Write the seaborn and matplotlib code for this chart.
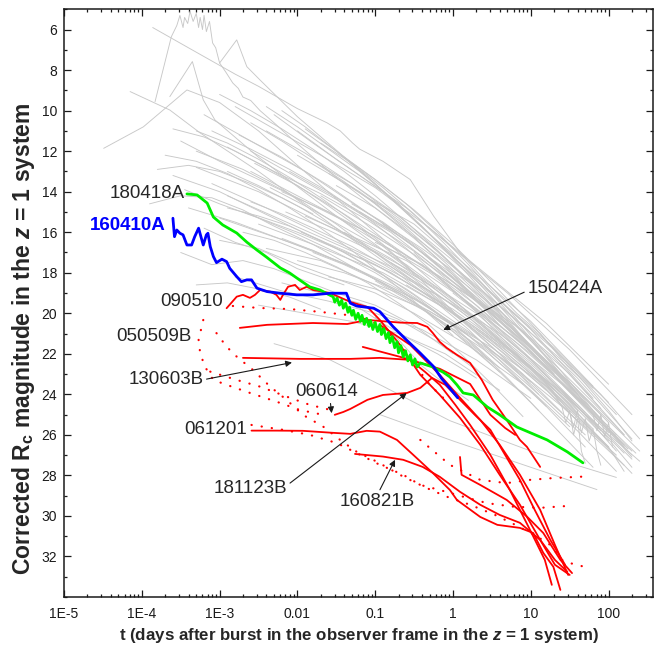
import numpy as np
import pandas as pd
import matplotlib
matplotlib.use('Agg')
import matplotlib.pyplot as plt
import seaborn as sns
from matplotlib.ticker import FixedLocator, MultipleLocator, LogLocator, NullFormatter

# ---------------- data (log10 t in days, corrected Rc magnitude) ----------------
# background afterglow sample (grey)
gray_lt = [
    [-3.83, -3.62, -3.55, -3.51, -3.47, -3.45, -3.41, -3.38, -3.34, -3.30, -3.27, -3.25, -3.22, -3.20, -3.17, -3.13, -3.09, -3.05, -3.00, -2.92, -2.83, -2.76, -2.70, -2.60, -2.48, -2.30, -2.10, -1.80, -1.50, -1.00, -0.50, 0.00, 0.50, 1.00, 1.40],
    [-3.86, -3.40, -2.80, -2.50, -2.00, -1.62, -1.45, -1.29, -1.20, -0.90, -0.55, -0.25, 0.09, 0.44, 0.82, 1.12, 1.47, 1.80, 2.10],
    [-3.64, -3.35, -3.21, -3.06, -2.50, -1.50, -0.50, 0.50, 1.30],
    [-3.00, -2.78, -2.65, -2.48, -2.00, -1.00, 0.00, 1.00, 1.80],
    [-4.49, -3.98, -3.42, -3.00, -2.50, -2.00, -1.00, 0.00, 1.00, 1.60],
    [-4.15, -3.64, -3.25, -2.50, -1.50, -0.50, 0.50, 1.20],
    [-3.50, -3.00, -2.00, -1.00, 0.00, 0.80, 1.50, 2.20],
    [-3.30, -2.50, -1.50, -0.50, 0.30, 1.00, 1.90],
    [-3.10, -2.40, -1.60, -0.80, 0.00, 0.70, 1.30, 2.00],
    [-2.90, -2.20, -1.20, -0.20, 0.60, 1.40, 2.30],
    [-2.70, -2.00, -1.00, 0.00, 0.80, 1.60],
    [-2.50, -1.80, -0.90, 0.10, 0.90, 1.70, 2.40],
    [-3.60, -3.00, -2.20, -1.40, -0.60, 0.20, 1.00],
    [-3.20, -2.60, -1.90, -1.20, -0.40, 0.40, 1.10, 1.80],
    [-2.80, -2.30, -1.70, -1.00, -0.30, 0.50, 1.20, 2.00],
    [-2.30, -1.80, -1.20, -0.60, 0.00, 0.70, 1.50, 2.30],
    [-2.00, -1.50, -0.90, -0.30, 0.40, 1.00, 1.80],
    [-1.80, -1.30, -0.70, 0.00, 0.60, 1.30, 2.00],
    [-1.50, -1.00, -0.40, 0.20, 0.90, 1.60, 2.30],
    [-2.60, -2.00, -1.40, -0.80, -0.20, 0.50, 1.20, 1.90],
    [-3.40, -2.80, -2.10, -1.30, -0.50, 0.30, 1.00, 1.70],
    [-2.20, -1.60, -1.00, -0.30, 0.40, 1.10, 1.70],
    [-1.90, -1.30, -0.60, 0.10, 0.80, 1.50, 2.20],
    [-1.20, -0.60, 0.00, 0.60, 1.20, 1.90],
    [-1.00, -0.40, 0.30, 0.90, 1.50, 2.10],
    [-0.80, -0.20, 0.40, 1.00, 1.60, 2.30],
    [-2.40, -1.70, -1.00, -0.30, 0.40, 1.00, 1.50],
    [-2.00, -1.40, -0.70, 0.00, 0.70, 1.40, 2.10],
    [-1.60, -1.00, -0.30, 0.50, 1.20, 2.00],
    [-3.00, -2.50, -2.00, -1.50, -1.00, -0.50, 0.20, 0.90],
    [-2.80, -2.20, -1.60, -1.00, -0.40, 0.30, 1.00],
    [-2.50, -1.90, -1.30, -0.70, -0.10, 0.60],
    [-2.30, -1.58, -0.90, -0.04, 1.00, 2.10],
    [-0.94, 0.00, 1.00, 1.85],
    [0.50, 1.00, 1.50, 1.80, 2.00, 2.20],
    [0.80, 1.10, 1.30, 1.40, 1.45, 1.50, 1.55, 1.60, 1.65, 1.70],
    [-3.50, -3.10, -2.70, -2.30, -1.90, -1.50, -1.00, -0.50, 0.00],
    [-3.20, -2.80, -2.40, -2.00, -1.40],
    [-1.30, -0.90, -0.50, -0.20, 0.10, 0.30],
    [-1.00, -0.70, -0.40, -0.10, 0.20],
    [-2.60, -1.90, -1.10, -0.40, 0.30, 1.00, 1.60],
    [-2.10, -1.50, -0.80, -0.10, 0.60, 1.30, 1.90],
    [-1.70, -1.10, -0.50, 0.20, 0.90, 1.50],
    [-2.90, -2.30, -1.70, -1.10, -0.40, 0.20, 0.80, 1.30],
    [-1.40, -0.80, -0.20, 0.40, 1.00, 1.60, 2.10],
    [-3.00, -2.40, -1.80, -1.20, -0.60, 0.00, 0.60],
    [-0.60, 0.00, 0.60, 1.20, 1.80, 2.30],
    [-2.40, -1.90, -1.30, -0.70, -0.10, 0.50, 1.10, 1.70],
    [-1.10, -0.50, 0.10, 0.70, 1.30, 1.90, 2.40],
    [0.00, 0.50, 1.00, 1.50, 2.00, 2.35],
    [-3.30, -2.70, -2.10, -1.50, -0.90, -0.30, 0.30, 0.90, 1.40],
    [-2.90, -2.50, -2.00, -1.50, -1.00, -0.50, 0.00, 0.60, 1.10],
    [-2.75, -2.20, -1.60, -1.00, -0.40, 0.20, 0.80, 1.50, 2.00],
    [-2.55, -2.00, -1.40, -0.80, -0.20, 0.40, 1.00, 1.60, 2.20],
    [-2.35, -1.80, -1.20, -0.60, 0.00, 0.60, 1.20, 1.80],
    [-2.15, -1.60, -1.00, -0.40, 0.20, 0.80, 1.40, 2.00],
    [-1.95, -1.40, -0.80, -0.20, 0.40, 1.00, 1.60],
    [-3.45, -3.00, -2.50, -2.00, -1.50, -1.00, -0.50, 0.00, 0.60],
    [-3.10, -2.60, -2.10, -1.60, -1.10, -0.60, -0.10, 0.40, 0.90, 1.30],
    [-2.00, -1.60, -1.10, -0.60, -0.10, 0.40, 0.90, 1.40, 1.90, 2.30],
    [-1.60, -1.20, -0.70, -0.20, 0.30, 0.80, 1.30, 1.80, 2.20],
    [-1.30, -0.90, -0.40, 0.10, 0.60, 1.10, 1.60, 2.00],
    [-0.90, -0.50, 0.00, 0.50, 1.00, 1.50, 2.00, 2.40],
    [-0.50, 0.00, 0.50, 1.00, 1.50, 1.90, 2.30],
    [-2.60, -2.20, -1.80, -1.30, -0.80, -0.30, 0.20, 0.70, 1.20],
    [-2.20, -1.80, -1.30, -0.80, -0.30, 0.20, 0.70, 1.20, 1.70],
    [-1.80, -1.40, -0.90, -0.40, 0.10, 0.60, 1.10, 1.60, 2.10],
    [-1.20, -0.80, -0.30, 0.20, 0.70, 1.20, 1.70, 2.20],
    [-3.70, -3.30, -2.90, -2.50, -2.10, -1.70, -1.30, -0.90, -0.50, 0.00],
    [-3.90, -3.50, -3.10, -2.70, -2.30, -1.80, -1.20, -0.60, 0.00, 0.50],
    [-2.40, -2.00, -1.60, -1.20, -0.80, -0.40, 0.00, 0.40, 0.80, 1.20, 1.60],
    [-1.90, -1.50, -1.00, -0.50, 0.00, 0.50, 1.00, 1.50, 2.00, 2.30],
    [-0.20, 0.30, 0.80, 1.30, 1.80, 2.25],
    [0.30, 0.70, 1.10, 1.50, 1.90, 2.30],
    [-1.00, -0.60, -0.20, 0.20, 0.60, 1.00, 1.40, 1.80],
    [-2.70, -2.30, -1.90, -1.50, -1.10, -0.70, -0.30, 0.10, 0.50, 0.90],
    [1.20, 1.30, 1.40, 1.50, 1.55, 1.60, 1.65, 1.70, 1.75, 1.80, 1.85, 1.90],
    [1.50, 1.60, 1.70, 1.80, 1.85, 1.90, 1.95, 2.00, 2.05],
    [-2.20, -1.70, -1.20, -0.70, -0.20, 0.30],
    [-3.30, -2.90, -2.50, -2.10, -1.70],
    [-3.00, -2.60, -2.20, -1.80, -1.40, -1.00, -0.60, -0.20, 0.20, 0.60, 1.00],
    [-2.60, -2.20, -1.80, -1.40, -1.00, -0.60, -0.20, 0.20, 0.60],
    [-3.30, -2.90, -2.50, -2.10, -1.70, -1.30, -0.90, -0.50],
    [-3.60, -3.20, -2.80, -2.40, -2.00, -1.60, -1.20, -0.80, -0.40, 0.00],
    [-2.20, -1.90, -1.50, -1.10, -0.70, -0.30, 0.10, 0.50, 0.90, 1.30],
    [-1.70, -1.30, -0.90, -0.50, -0.10, 0.30, 0.70, 1.10, 1.50, 1.90],
    [-3.80, -3.40, -3.00, -2.60, -2.20, -1.80],
    [-2.90, -2.50, -2.10, -1.70, -1.30, -0.90, -0.50, -0.10, 0.30, 0.70, 1.10],
    [-1.40, -1.00, -0.60, -0.20, 0.20, 0.60, 1.00, 1.40, 1.80, 2.20],
]
gray_mag = [
    [9.56, 6.35, 5.80, 5.30, 5.90, 5.40, 5.70, 5.10, 5.60, 5.20, 5.90, 5.40, 6.00, 5.30, 6.10, 5.60, 6.66, 6.90, 7.65, 8.10, 8.64, 8.90, 9.33, 9.50, 10.00, 10.60, 11.30, 12.30, 13.30, 14.80, 16.30, 18.00, 19.80, 21.60, 23.20],
    [5.90, 6.90, 8.20, 8.80, 9.90, 10.60, 11.00, 11.60, 11.90, 12.50, 13.40, 15.20, 17.00, 18.50, 20.00, 21.00, 22.60, 23.80, 25.00],
    [9.31, 7.58, 9.47, 10.46, 12.30, 15.20, 18.00, 21.00, 23.80],
    [7.65, 6.51, 7.83, 8.49, 10.30, 13.60, 17.20, 20.80, 24.20],
    [11.86, 10.80, 8.98, 9.60, 11.00, 12.70, 16.00, 19.30, 22.80, 25.00],
    [9.06, 9.97, 11.10, 13.00, 15.80, 18.50, 21.50, 23.80],
    [11.50, 12.50, 14.30, 16.20, 18.60, 20.60, 23.00, 26.00],
    [12.80, 14.00, 15.90, 18.00, 20.00, 22.30, 25.80],
    [13.60, 14.80, 16.30, 17.70, 19.60, 21.70, 23.60, 26.30],
    [14.20, 15.40, 17.10, 19.10, 21.00, 23.50, 26.80],
    [15.00, 16.00, 17.60, 19.80, 22.00, 24.80],
    [15.60, 16.60, 18.00, 20.20, 22.30, 25.00, 27.30],
    [13.20, 14.00, 15.50, 17.00, 18.80, 20.90, 23.40],
    [10.20, 11.50, 13.00, 14.80, 16.80, 19.00, 21.30, 23.70],
    [9.80, 10.90, 12.20, 13.80, 15.80, 18.30, 20.50, 23.50],
    [10.20, 11.60, 13.20, 14.80, 16.80, 19.00, 21.80, 25.00],
    [11.00, 12.40, 14.00, 16.10, 18.40, 20.40, 23.60],
    [12.50, 13.60, 15.20, 17.40, 19.40, 21.80, 24.40],
    [13.70, 14.80, 16.50, 18.30, 20.60, 23.20, 26.20],
    [12.00, 13.30, 14.60, 16.00, 17.80, 20.00, 22.40, 25.20],
    [14.80, 15.50, 16.50, 17.70, 19.30, 21.20, 23.50, 26.00],
    [14.00, 15.00, 16.40, 18.00, 20.10, 22.60, 24.90],
    [15.20, 16.20, 17.40, 19.20, 21.20, 23.80, 26.50],
    [15.00, 16.40, 18.20, 20.20, 22.40, 25.00],
    [16.50, 17.60, 19.40, 21.40, 23.60, 26.00],
    [17.50, 18.80, 20.50, 22.40, 24.50, 27.20],
    [16.80, 17.40, 18.60, 20.00, 21.80, 23.80, 25.60],
    [17.40, 18.00, 19.00, 20.60, 22.40, 24.60, 27.00],
    [18.20, 18.80, 19.90, 21.70, 23.60, 26.60],
    [16.40, 16.80, 17.60, 18.30, 19.00, 20.00, 21.60, 23.50],
    [18.20, 18.90, 19.40, 20.00, 20.80, 22.30, 24.20],
    [19.60, 20.00, 20.40, 21.00, 22.00, 23.80],
    [21.50, 22.30, 23.60, 25.30, 26.80, 28.10],
    [25.00, 26.30, 27.60, 28.70],
    [21.00, 22.60, 24.50, 25.80, 26.60, 27.80],
    [22.00, 23.00, 24.00, 24.60, 25.40, 24.80, 26.00, 25.20, 26.80, 27.40],
    [17.00, 17.60, 17.40, 17.80, 18.40, 19.00, 19.60, 20.60, 22.00],
    [15.80, 16.50, 17.00, 17.80, 18.60],
    [19.50, 20.50, 21.40, 22.00, 22.70, 23.20],
    [20.20, 21.30, 22.60, 23.50, 24.30],
    [13.00, 14.40, 16.00, 17.60, 19.60, 21.90, 24.20],
    [13.00, 14.30, 15.90, 17.80, 19.90, 22.20, 24.70],
    [14.20, 15.60, 17.10, 19.00, 21.20, 23.50],
    [11.80, 13.00, 14.10, 15.40, 17.20, 19.10, 21.10, 23.00],
    [16.00, 17.30, 18.90, 20.60, 22.50, 24.60, 26.80],
    [15.30, 16.10, 16.90, 17.90, 19.20, 20.90, 22.90],
    [18.60, 20.00, 21.60, 23.30, 25.30, 27.60],
    [11.00, 12.10, 13.60, 15.30, 17.30, 19.60, 22.00, 24.50],
    [14.30, 15.60, 17.60, 19.70, 21.70, 24.00, 26.20],
    [19.00, 20.50, 22.00, 23.80, 25.60, 26.90],
    [12.00, 12.90, 14.10, 15.60, 17.30, 19.00, 21.00, 23.00, 24.90],
    [13.00, 13.70, 14.70, 15.80, 17.00, 18.30, 19.90, 22.00, 24.00],
    [11.20, 12.30, 13.70, 15.30, 17.00, 18.90, 20.90, 23.40, 25.40],
    [12.60, 13.70, 15.10, 16.60, 18.20, 20.20, 22.30, 24.60, 26.90],
    [13.80, 14.90, 16.20, 17.60, 19.30, 21.30, 23.40, 25.70],
    [15.00, 15.90, 17.00, 18.50, 20.20, 22.20, 24.30, 26.60],
    [16.00, 16.90, 18.00, 19.40, 21.00, 23.00, 25.30],
    [13.90, 14.60, 15.30, 16.10, 17.00, 18.00, 19.20, 20.60, 22.70],
    [11.00, 11.90, 12.90, 14.00, 15.30, 16.80, 18.50, 20.30, 22.30, 23.90],
    [12.20, 13.10, 14.30, 15.80, 17.50, 19.30, 21.30, 23.30, 25.40, 27.00],
    [13.10, 14.00, 15.40, 16.90, 18.70, 20.60, 22.50, 24.40, 26.00],
    [14.60, 15.50, 16.90, 18.60, 20.40, 22.30, 24.30, 25.90],
    [15.60, 16.70, 18.30, 20.00, 21.70, 23.40, 25.30, 26.80],
    [17.00, 18.60, 20.30, 21.90, 23.80, 25.40, 27.10],
    [14.50, 15.10, 15.80, 16.70, 17.80, 19.20, 20.80, 22.70, 24.60],
    [16.30, 16.90, 17.70, 18.60, 19.70, 21.10, 22.80, 24.60, 26.60],
    [17.00, 17.60, 18.50, 19.50, 20.80, 22.30, 24.00, 25.80, 27.80],
    [17.20, 18.00, 19.20, 20.60, 22.10, 23.80, 25.70, 27.50],
    [12.20, 12.50, 13.10, 13.90, 14.80, 15.80, 16.90, 18.10, 19.40, 21.10],
    [14.60, 14.20, 14.30, 14.90, 15.70, 16.60, 17.90, 19.20, 20.80, 22.40],
    [9.80, 10.80, 11.90, 13.00, 14.30, 15.70, 17.20, 18.80, 20.50, 22.20, 24.00],
    [10.90, 12.00, 13.40, 14.90, 16.60, 18.50, 20.50, 22.60, 24.80, 26.30],
    [18.20, 19.80, 21.40, 23.10, 25.00, 26.70],
    [20.80, 22.00, 23.30, 24.80, 26.30, 27.90],
    [18.40, 19.30, 20.30, 21.50, 22.90, 24.40, 26.00, 27.60],
    [16.00, 16.40, 17.00, 17.70, 18.50, 19.50, 20.60, 22.00, 23.50, 25.10],
    [23.50, 24.00, 24.40, 24.90, 25.60, 24.80, 25.90, 25.20, 26.30, 25.70, 26.80, 27.50],
    [23.60, 24.00, 24.50, 25.00, 25.80, 25.00, 26.10, 25.40, 26.60],
    [18.50, 19.00, 19.50, 20.30, 21.40, 22.80],
    [18.60, 18.50, 18.80, 19.20, 19.80],
    [9.20, 10.00, 10.90, 11.90, 13.00, 14.20, 15.50, 16.90, 18.40, 20.00, 21.70],
    [10.60, 11.50, 12.50, 13.50, 14.60, 15.90, 17.30, 18.90, 20.60],
    [11.00, 11.60, 12.40, 13.30, 14.30, 15.40, 16.60, 18.00],
    [10.90, 11.30, 12.00, 12.80, 13.70, 14.70, 15.80, 17.00, 18.40, 19.90],
    [10.00, 10.80, 12.00, 13.30, 14.60, 16.10, 17.70, 19.40, 21.20, 23.00],
    [11.60, 12.60, 13.80, 15.10, 16.60, 18.20, 19.90, 21.70, 23.50, 25.40],
    [12.90, 12.70, 13.00, 13.60, 14.30, 15.10],
    [14.80, 15.20, 15.70, 16.40, 17.20, 18.10, 19.10, 20.30, 21.70, 23.20, 24.80],
    [12.30, 13.40, 14.60, 16.00, 17.60, 19.30, 21.10, 22.90, 24.80, 26.60],
]

# GRB 180418A (green)
green_lt = [-3.42, -3.29, -3.16, -3.08, -2.96, -2.78, -2.65, -2.52, -2.40, -2.22, -2.10, -1.97, -1.84, -1.71,
            -1.54, -1.52, -1.49, -1.46, -1.43, -1.41, -1.38, -1.35, -1.33, -1.30, -1.28, -1.25, -1.22, -1.19,
            -1.17, -1.14, -1.11, -1.08, -1.06, -1.03, -1.00, -0.97, -0.94, -0.92, -0.89, -0.86, -0.83, -0.81,
            -0.78, -0.75, -0.72, -0.70, -0.67, -0.64, -0.61, -0.58, -0.55, -0.52, -0.49, -0.46, -0.42,
            -0.26, -0.13, -0.04, 0.05, 0.13, 0.26, 0.44, 0.60, 0.82, 1.21, 1.47, 1.67]
green_mag = [14.11, 14.16, 14.56, 15.25, 15.64, 16.04, 16.49, 16.88, 17.22, 17.76, 18.01, 18.36, 18.70, 18.85,
             19.19, 19.45, 19.25, 19.60, 19.35, 19.75, 19.50, 19.95, 19.70, 20.10, 19.85, 20.30, 20.00, 20.40,
             20.10, 20.55, 20.25, 20.65, 20.35, 20.80, 20.45, 20.90, 20.55, 21.05, 20.75, 21.25, 20.95, 21.45,
             21.15, 21.70, 21.40, 21.95, 21.60, 22.15, 21.85, 22.35, 22.05, 22.55, 22.25, 22.65, 22.45,
             22.65, 22.90, 23.14, 23.53, 23.93, 24.03, 24.62, 25.01, 25.61, 26.25, 26.84, 27.38]

# GRB 160410A (blue)
blue_lt = [-3.60, -3.58, -3.55, -3.51, -3.47, -3.42, -3.36, -3.32, -3.27, -3.24, -3.21, -3.17, -3.15, -3.12,
           -3.08, -3.04, -2.97, -2.91, -2.87, -2.78, -2.72, -2.65, -2.59, -2.52, -2.39, -2.22, -2.01, -1.80,
           -1.58, -1.37, -1.32, -1.24, -1.02, -0.94, -0.77, -0.60, -0.42, -0.25, -0.15, 0.06]
blue_mag = [15.31, 16.22, 15.89, 16.05, 16.13, 16.63, 16.63, 16.22, 15.80, 16.22, 16.63, 16.13, 16.05, 16.71,
            17.20, 17.50, 17.33, 17.45, 17.78, 18.19, 18.44, 18.35, 18.35, 18.76, 18.93, 19.01, 19.09, 19.09,
            19.01, 19.01, 19.50, 19.64, 19.75, 19.92, 20.66, 21.31, 21.97, 22.63, 23.20, 24.17]

# short / peculiar bursts (red, solid)
red_lt = [
    [-2.91, -2.78, -2.70, -2.61, -2.545, -2.48, -2.35, -2.27, -2.22, -2.185, -2.12, -2.03, -1.97, -1.88, -1.80,
     -1.58, -1.32, -1.10, -0.94, -0.68, -0.42, -0.17, 0.09, 0.35, 0.60, 0.86, 1.12, 1.31, 1.50],
    [-2.74, -2.39, -1.80, -1.36, -1.10, -0.68, -0.46, -0.33, -0.26, -0.17, -0.08, 0.05, 0.22, 0.37, 0.51, 0.69,
     0.86, 0.95, 1.12],
    [-2.70, -1.97, -1.32, -0.94, -0.55, -0.36, -0.17, 0.03, 0.22, 0.48, 0.73, 0.99, 1.18, 1.27],
    [-1.52, -1.41, -1.32, -1.10, -0.90, -0.59, -0.42, -0.27, -0.10, 0.09, 0.28, 0.48, 0.67, 0.86, 1.05, 1.25, 1.44],
    [-2.59, -2.27, -1.93, -1.58, -1.32, -1.11, -0.94, -0.72, -0.51, -0.26, -0.04, 0.05, 0.35, 0.57, 0.86, 1.03,
     1.16, 1.29, 1.38],
    [-1.26, -0.90, -0.64, -0.39, -0.17, 0.09, 0.35, 0.60, 0.86, 1.12, 1.31, 1.47],
    [0.09, 0.11, 0.35, 0.69, 0.95, 1.16, 1.38, 1.53],
    [-1.16, -0.68, -0.17, 0.22, 0.48, 0.67, 0.80],
    [-0.94, -0.55, -0.17, 0.09, 0.35, 0.60, 0.86, 1.12, 1.31, 1.48],
]
red_mag = [
    [19.75, 19.18, 19.09, 19.24, 19.09, 18.85, 18.93, 19.09, 19.34, 19.09, 18.69, 18.60, 18.85, 18.69, 18.85,
     19.00, 19.44, 19.69, 20.33, 21.56, 23.04, 24.03, 25.16, 26.49, 27.97, 29.45, 31.18, 32.41, 32.91],
    [20.72, 20.57, 20.48, 20.53, 20.33, 20.46, 20.48, 20.67, 20.97, 21.41, 21.71, 22.05, 22.45, 23.29, 24.27,
     25.26, 26.25, 26.59, 27.58],
    [22.20, 22.25, 22.25, 22.20, 22.30, 22.89, 23.53, 24.52, 25.51, 26.99, 28.71, 30.69, 32.17, 33.40],
    [25.01, 24.87, 24.72, 24.27, 24.03, 23.93, 23.68, 23.19, 23.53, 24.27, 25.01, 25.75, 26.99, 28.22, 29.70,
     31.18, 32.41],
    [25.79, 25.79, 25.80, 25.89, 25.95, 25.80, 25.84, 26.25, 26.99, 27.88, 28.72, 29.21, 30.05, 30.44, 30.59,
     30.84, 31.82, 32.51, 33.65],
    [26.94, 27.07, 27.23, 27.58, 28.07, 28.81, 29.45, 29.95, 30.34, 31.18, 32.17, 32.76],
    [27.09, 27.97, 28.47, 29.21, 30.03, 30.84, 32.17, 32.82],
    [21.66, 22.15, 22.74, 23.49, 25.01, 25.66, 26.00],
    [20.57, 21.56, 23.04, 24.17, 25.26, 26.49, 27.97, 29.70, 31.43, 32.91],
]

# red, dotted
dot_lt = [
    [-2.83, -2.48, -2.10, -1.71, -1.37, -1.07, -0.87, -0.68, -0.49, -0.30, -0.10],
    [-3.21, -3.27, -3.25, -3.19, -3.08, -2.91, -2.61, -2.27, -1.97, -1.67],
    [-3.04, -2.91, -2.78, -2.57, -2.35, -2.14, -1.93, -1.67, -1.45, -1.24, -0.98, -0.64, -0.34, -0.08, 0.22,
     0.54, 0.80, 1.05, 1.25, 1.40, 1.57, 1.70],
    [-2.59, -2.185, -1.84, -1.49, -1.24, -0.94, -0.64, -0.42, -0.17, 0.13, 0.44, 0.77, 1.12, 1.50],
    [-0.42, -0.04, 0.35, 0.69, 0.99, 1.29, 1.67],
    [-3.12, -2.78, -2.48, -2.14, -1.84, -1.52],
]
dot_mag = [
    [19.64, 19.74, 19.79, 19.93, 20.08, 20.33, 20.82, 21.56, 22.55, 23.53, 24.27],
    [20.33, 21.31, 21.96, 22.63, 23.29, 23.53, 23.93, 24.36, 24.77, 25.01],
    [20.98, 21.65, 22.14, 22.80, 23.62, 24.27, 25.01, 25.59, 26.25, 26.83, 27.32, 28.06, 28.62, 29.05, 29.45,
     29.95, 30.44, 30.94, 31.43, 32.17, 32.41, 32.51],
    [25.51, 25.75, 26.00, 26.41, 26.89, 27.48, 27.97, 28.47, 28.72, 29.05, 29.37, 29.54, 29.60, 29.50],
    [26.25, 27.48, 28.22, 28.38, 28.22, 28.13, 28.06],
    [22.88, 23.29, 23.62, 24.11, 24.52, 24.82],
]

x_ticks = [1e-5, 1e-4, 1e-3, 0.01, 0.1, 1, 10, 100]
x_ticklabels = ['1E-5', '1E-4', '1E-3', '0.01', '0.1', '1', '10', '100']
y_ticks = list(range(6, 34, 2))

# ---------------- plotting ----------------
sns.set_theme(style='ticks')
plt.rcParams['font.family'] = ['Liberation Sans', 'DejaVu Sans']
plt.rcParams['mathtext.fontset'] = 'custom'
plt.rcParams['mathtext.rm'] = 'Liberation Sans:bold'
plt.rcParams['mathtext.bf'] = 'Liberation Sans:bold'
plt.rcParams['mathtext.it'] = 'Liberation Sans:bold:italic'

fig = plt.figure(figsize=(6.62, 6.46), dpi=100)
ax = fig.add_axes([64 / 662, 1 - 597 / 646, 589 / 662, 587.7 / 646])
ax.set_xscale('log')

rows = []
for i, (lts, ms) in enumerate(zip(gray_lt, gray_mag)):
    for lt, m in zip(lts, ms):
        rows.append({'curve': i, 't': 10 ** lt, 'mag': m})
gray_df = pd.DataFrame(rows)
sns.lineplot(data=gray_df, x='t', y='mag', units='curve', estimator=None, sort=False,
             color='#c8c8c8', lw=0.65, legend=False, ax=ax, zorder=1)

for lts, ms in zip(red_lt, red_mag):
    ax.plot(10 ** np.array(lts), ms, color='#ff0000', lw=1.3, zorder=3)
for lts, ms in zip(dot_lt, dot_mag):
    ax.plot(10 ** np.array(lts), ms, color='#ff0000', lw=1.6, ls=(0, (0.1, 4.5)),
            dash_capstyle='round', zorder=3)

ax.plot(10 ** np.array(green_lt), green_mag, color='#00ee00', lw=2.0, zorder=4)
ax.plot(10 ** np.array(blue_lt), blue_mag, color='#0000ff', lw=2.0, zorder=5)

# labels
lab_kw = dict(fontsize=13.5, va='center')
ax.text(10 ** -3.445, 14.1, '180418A', ha='right', **lab_kw)
ax.text(10 ** -3.69, 15.69, '160410A', ha='right', color='#0000ff', fontweight='bold', **lab_kw)
ax.text(10 ** -2.95, 19.43, '090510', ha='right', **lab_kw)
ax.text(10 ** -3.36, 21.15, '050509B', ha='right', **lab_kw)
ax.text(10 ** -2.65, 25.75, '061201', ha='right', **lab_kw)

arr = dict(arrowstyle='-|>', color='k', lw=0.8, mutation_scale=9, shrinkA=0, shrinkB=0)
ax.annotate('150424A', xy=(10 ** -0.125, 20.82), xytext=(10 ** 1.44, 18.8), ha='center',
            arrowprops=dict(arr, relpos=(0, 0.4)), **lab_kw)
ax.annotate('130603B', xy=(10 ** -2.07, 22.43), xytext=(10 ** -3.21, 23.28), ha='right',
            arrowprops=dict(arr, relpos=(1, 0.5)), **lab_kw)
ax.annotate('060614', xy=(10 ** -1.56, 24.93), xytext=(10 ** -1.62, 23.87), ha='center',
            arrowprops=dict(arr, relpos=(0.55, 0)), **lab_kw)
ax.annotate('181123B', xy=(10 ** -0.595, 23.94), xytext=(10 ** -2.61, 28.63), ha='center',
            arrowprops=dict(arr, relpos=(1, 0.65)), **lab_kw)
ax.annotate('160821B', xy=(10 ** -0.745, 27.23), xytext=(10 ** -0.98, 29.29), ha='center',
            arrowprops=dict(arr, relpos=(0.52, 1)), **lab_kw)

# axes
ax.set_xlim(1e-5, 372)
ax.set_ylim(34, 5)
ax.xaxis.set_major_locator(FixedLocator(x_ticks))
ax.set_xticklabels(x_ticklabels)
ax.xaxis.set_minor_locator(LogLocator(base=10, subs=np.arange(2, 10)))
ax.xaxis.set_minor_formatter(NullFormatter())
ax.yaxis.set_major_locator(FixedLocator(y_ticks))
ax.yaxis.set_minor_locator(MultipleLocator(1))
ax.tick_params(which='both', direction='in', top=True, right=True, width=0.9, colors='k')
ax.tick_params(which='major', length=5)
ax.tick_params(which='minor', length=2.5)
ax.tick_params(axis='x', which='major', labelsize=10, pad=7)
ax.tick_params(axis='y', which='major', labelsize=10, pad=5)
for s in ax.spines.values():
    s.set_linewidth(1.1)
    s.set_color('k')

ax.set_xlabel('t (days after burst in the observer frame in the $z$ = 1 system)',
              fontsize=12.2, fontweight='bold', labelpad=4)
ax.set_ylabel('Corrected R$_\\mathrm{c}$ magnitude in the $z$ = 1 system',
              fontsize=16.5, fontweight='bold', labelpad=3)
ax.yaxis.label.set_y(0.44)

fig.savefig('out.png', dpi=100)
